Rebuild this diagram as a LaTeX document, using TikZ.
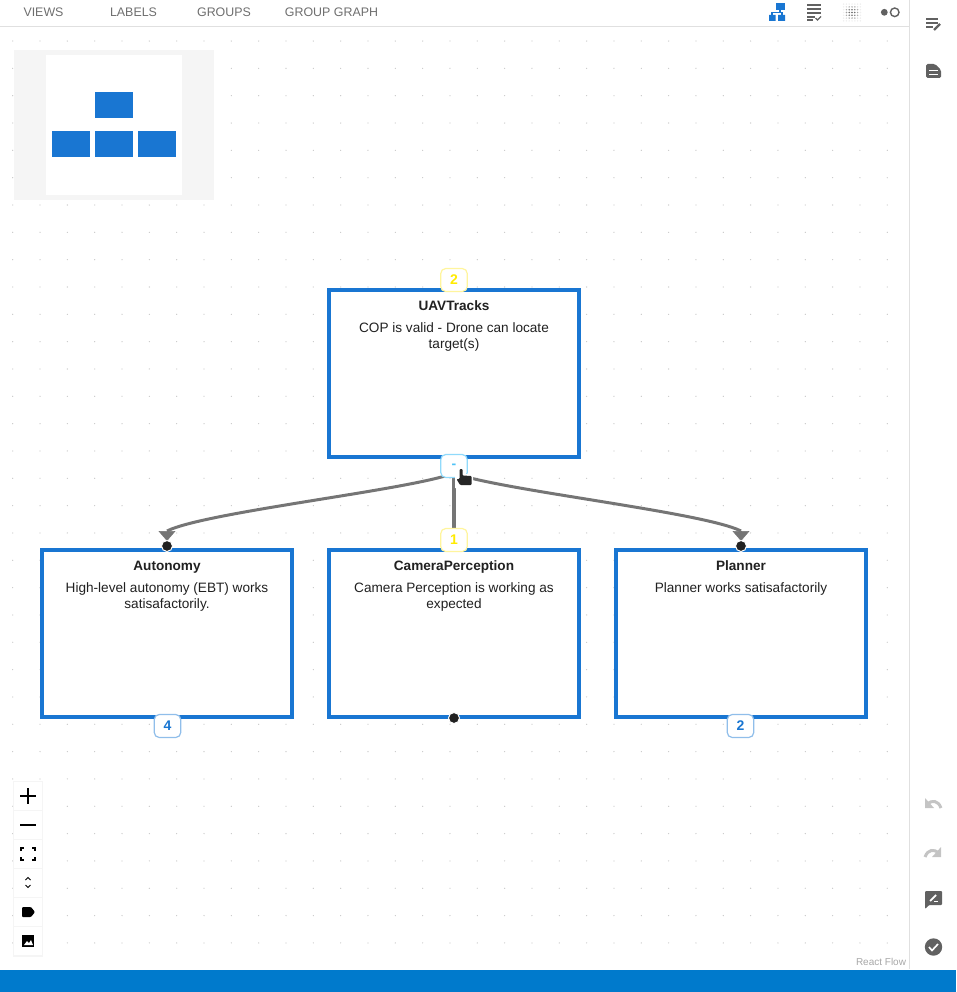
\documentclass[tikz,border=0pt]{standalone}
\usepackage{fontspec}
\setmainfont{Liberation Sans}
\usepackage{xcolor}
\usetikzlibrary{arrows.meta,backgrounds,positioning}

\definecolor{nodeblue}{HTML}{1976D2}
\definecolor{barblue}{HTML}{007ACC}
\definecolor{edgegray}{HTML}{757575}
\definecolor{icongray}{HTML}{616161}
\definecolor{offgray}{HTML}{C4C4C4}
\definecolor{rulegray}{HTML}{E0E0E0}
\definecolor{tabgray}{HTML}{6E6E6E}
\definecolor{panelgray}{HTML}{F5F5F5}
\definecolor{textdark}{HTML}{212121}
\definecolor{gridgray}{HTML}{C8C8C8}
\definecolor{badgeyellow}{HTML}{FFF59D}
\definecolor{countyellow}{HTML}{FFEB00}
\definecolor{badgesky}{HTML}{90DAFB}
\definecolor{countsky}{HTML}{4FC3F7}
\definecolor{badgeblue}{HTML}{90BEEA}

\tikzset{
  taskbox/.style={draw=nodeblue, line width=4pt, fill=white, minimum width=250pt, minimum height=167pt, inner sep=0pt},
  tasktitle/.style={font=\fontsize{13.6}{16}\selectfont\bfseries, text=textdark, inner sep=0pt, text height=10pt, text depth=3pt, anchor=center},
  taskdesc/.style={font=\fontsize{13.6}{16}\selectfont, text=textdark, align=center, inner sep=0pt, anchor=north},
  badge/.style={draw=#1, line width=1.2pt, rounded corners=5pt, fill=white, minimum width=26.5pt, minimum height=23pt, inner sep=0pt, font=\fontsize{14}{16}\selectfont\bfseries},
  handle/.style={circle, draw=white, line width=1pt, fill=textdark, minimum size=11pt, inner sep=0pt},
  linkline/.style={draw=edgegray, line width=3pt},
  linktip/.style={draw=edgegray, line width=.5pt, -{Triangle[width=17pt,length=10pt,fill=edgegray]}, shorten >=-1pt},
  tablabel/.style={font=\fontsize{12.4}{14}\selectfont, text=tabgray, inner sep=0pt},
  minirect/.style={fill=nodeblue},
  ctrl/.style={fill=white, draw=none, minimum width=28pt, minimum height=28pt, inner sep=0pt},
}

\begin{document}
\begin{tikzpicture}[x=1pt, y=-1pt]
\useasboundingbox (0,0) rectangle (956,992);

%---------------- boxes ----------------%
\node[taskbox] (uavtracks) at (454,373.5) {};
\node[taskbox] (autonomy) at (167,633) {};
\node[taskbox] (camera) at (454,633) {};
\node[taskbox] (planner) at (741,633) {};

\node[tasktitle] (uavtitle) at (454,306.5) {UAVTracks};
\node[tasktitle] (autotitle) at (167,566.5) {Autonomy};
\node[tasktitle] (camtitle) at (454,566.5) {CameraPerception};
\node[tasktitle] (plantitle) at (741,566.5) {Planner};

\node[taskdesc, below=9.5pt of uavtitle] (uavdesc) {COP is valid - Drone can locate\\target(s)};
\node[taskdesc, below=9.5pt of autotitle] (autodesc) {High-level autonomy (EBT) works\\satisafactorily.};
\node[taskdesc, below=9.5pt of camtitle] (camdesc) {Camera Perception is working as\\expected};
\node[taskdesc, below=9.5pt of plantitle] (plandesc) {Planner works satisafactorily};

%---------------- badges and handles ----------------%
\node[badge=badgeyellow, text=countyellow] (uavcount) at (454,280) {2};
\node[badge=badgesky, text=countsky] (collapse) at (454,466) {-};
\node[badge=badgeyellow, text=countyellow] (camcount) at (454,540) {1};
\node[badge=badgeblue, text=nodeblue] (autocount) at (167.5,726) {4};
\node[badge=badgeblue, text=nodeblue] (plancount) at (740.5,726) {2};
\node[handle] (autoin) at (167,546) {};
\node[handle] (planin) at (741,546) {};
\node[handle] (camout) at (454,718) {};
\coordinate[above=9pt of autoin.north] (autotip);
\coordinate[above=9pt of planin.north] (plantip);

%---------------- canvas ----------------%
\begin{scope}[on background layer]
\clip (0,27) rectangle (909,969);
\foreach \i in {0,...,33} {
  \foreach \j in {0,...,34} {
    \fill[gridgray] (12.7+27.33*\i,13.7+27.33*\j) circle (.65pt);
  }
}
\fill[panelgray] (14,50) rectangle (214,200);
\fill[white] (46,55) rectangle (182,195);
\end{scope}
\begin{scope}[on background layer]
\draw[linkline] (collapse.south) ++(0,-5) .. controls (410,490) and (205,512) .. (autotip);
\draw[linkline] (collapse.south) ++(0,-5) .. controls (498,490) and (703,512) .. (plantip);
\draw[linktip] (autotip) -- (autoin.north);
\draw[linktip] (plantip) -- (planin.north);
\draw[linkline, line width=3.4pt] (collapse) -- (camcount);
\end{scope}

%---------------- minimap ----------------%
\fill[minirect] (95,92) rectangle (133,118.5);
\fill[minirect] (52,131) rectangle (90,157.5);
\fill[minirect] (95,131) rectangle (133,157.5);
\fill[minirect] (138,131) rectangle (176,157.5);

%---------------- frame ----------------%
\fill[barblue] (0,969.5) rectangle (956,992);
\draw[rulegray, line width=1.2pt] (0,26.5) -- (909,26.5);
\draw[rulegray, line width=1.2pt] (909.5,0) -- (909.5,969);
\node[tablabel] (viewstab) at (43.5,12) {VIEWS};
\node[tablabel] (labelstab) at (133.5,12) {LABELS};
\node[tablabel] (groupstab) at (224,12) {GROUPS};
\node[tablabel] (graphtab) at (331.5,12) {GROUP GRAPH};
\node[font=\fontsize{10}{12}\selectfont, text=gray!70, inner sep=0pt] (reactflow) at (881,962) {React Flow};

%---------------- top icons ----------------%
\fill[nodeblue] (776,3) rectangle (785,10);
\fill[nodeblue] (769,15) rectangle (775.5,21) (778,15) rectangle (785,21);
\draw[nodeblue, line width=1.2pt] (780,10) -- (780,12.5) -- (772,12.5) -- (772,15);
\draw[nodeblue, line width=1.2pt] (780,12.5) -- (782,12.5) -- (782,15);
\foreach \y in {5,9,13} {
  \draw[icongray, line width=1.6pt] (807,\y) -- (821,\y);
}
\draw[icongray, line width=1.6pt] (807,17) -- (815,17);
\draw[icongray, line width=1.6pt] (807,19.8) -- (813,19.8);
\draw[icongray, line width=1.2pt] (815.5,18) -- (817.5,20) -- (821,16.5);
\foreach \i in {-3,...,3} {
  \foreach \j in {-3,...,3} {
    \pgfmathsetmacro{\dotop}{max(.1,1-(\i*\i+\j*\j)/10)}
    \fill[icongray, opacity=\dotop] (852+2.8*\i,12.5+2.8*\j) circle (.85pt);
  }
}
\fill[icongray] (884.3,12.3) circle (3.4pt);
\draw[icongray, line width=1.4pt] (894.7,12.3) circle (4.3pt);

%---------------- side icons ----------------%
\draw[icongray, line width=1.6pt] (926,19) -- (938,19) (926,23) -- (938,23) (926,27) -- (933,27);
\draw[icongray, line width=2.4pt] (934,30) -- (940,24);
\fill[icongray, rounded corners=1.5pt] (926,64) -- (935,64) -- (941,70) -- (941,78) -- (926,78) -- cycle;
\draw[white, line width=1pt] (929,71) -- (938,71) (929,74.5) -- (938,74.5);
\draw[offgray, line width=3pt] (941,808) .. controls (938,800) and (932,800) .. (927,804);
\fill[offgray] (925,798) -- (925,808) -- (934,808) -- cycle;
\draw[offgray, line width=3pt] (925,857) .. controls (928,849) and (934,849) .. (939,853);
\fill[offgray] (941,847) -- (941,857) -- (932,857) -- cycle;
\fill[icongray, rounded corners=1pt] (925,891) -- (942,891) -- (942,905) -- (929,905) -- (925,909) -- cycle;
\draw[white, line width=1.8pt] (930,901) -- (936,895);
\draw[white, line width=1pt] (934,901.5) -- (938,901.5);
\fill[icongray] (933.5,947) circle (8.7pt);
\draw[white, line width=1.6pt] (929,947) -- (932,950.5) -- (938,944);

%---------------- zoom controls ----------------%
\fill[black!4] (13,781) rectangle (43,956.5);
\foreach \y/\name in {782/zoomin, 811/zoomout, 840/fitview, 869/layout, 898/tag, 927/image} {
  \node[ctrl, anchor=north west] (\name) at (14,\y) {};
}
\draw[black, line width=1.5pt] (20,796) -- (36,796) (28,788) -- (28,804);
\draw[black, line width=1.5pt] (20,825) -- (36,825);
\draw[black, line width=1.4pt] (21,851) -- (21,848) -- (24,848) (32,848) -- (35,848) -- (35,851) (35,857) -- (35,860) -- (32,860) (24,860) -- (21,860) -- (21,857);
\draw[black, line width=1pt] (25.5,880) -- (28,877.5) -- (30.5,880) (25.5,885) -- (28,887.5) -- (30.5,885);
\fill[black, rounded corners=1pt] (22,907) -- (31,907) -- (35,912) -- (31,917) -- (22,917) -- cycle;
\fill[black] (22,935) rectangle (34,947);
\fill[white] (24,945) -- (27,941) -- (29,943) -- (31,940) -- (33,945) -- cycle;

%---------------- pointer ----------------%
\fill[white] (458,468) rectangle (464,480) (455,474) rectangle (473,488);
\fill[black!85, rounded corners=1pt] (459.5,469) -- (462.5,469) -- (462.5,475.5) -- (471.5,476) -- (471.5,485) -- (460,485) -- (456.5,479) -- (459.5,479) -- cycle;
\end{tikzpicture}
\end{document}
